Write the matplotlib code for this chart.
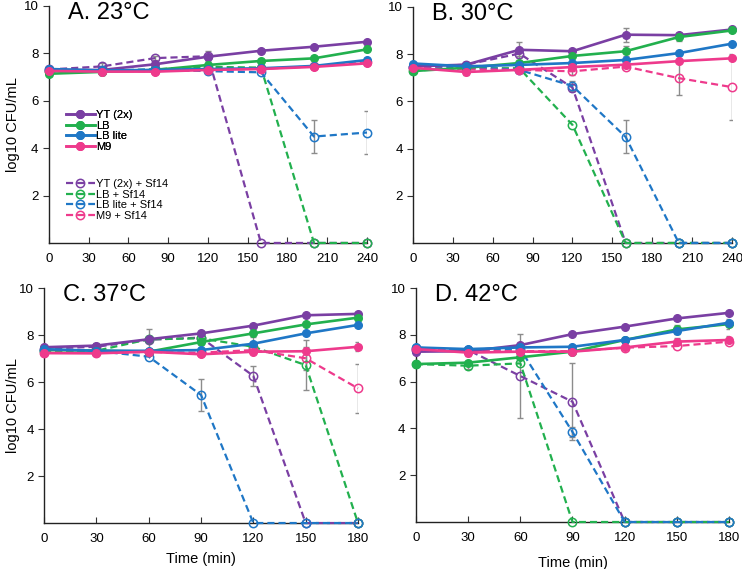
import matplotlib
matplotlib.use("Agg")
import matplotlib.pyplot as plt
from matplotlib.legend import Legend
from matplotlib.transforms import blended_transform_factory

plt.rcParams['font.family'] = ['Liberation Sans', 'DejaVu Sans']

# ---------------- data ----------------
SERIES = ["YT (2x)", "LB", "LB lite", "M9",
          "YT (2x) + Sf14", "LB + Sf14", "LB lite + Sf14", "M9 + Sf14"]
TITLES = ["A. 23°C", "B. 30°C", "C. 37°C", "D. 42°C"]

TIME_AB = [0, 40, 80, 120, 160, 200, 240]
TIME_CD = [0, 30, 60, 90, 120, 150, 180]
XTICKS_AB = [0, 30, 60, 90, 120, 150, 180, 210, 240]
XTICKS_CD = [0, 30, 60, 90, 120, 150, 180]
YTICKS = [2, 4, 6, 8, 10]

# Panel A (23 C)
A_YT = [7.30, 7.30, 7.54, 7.86, 8.11, 8.28, 8.49]
A_LB = [7.14, 7.22, 7.30, 7.51, 7.68, 7.79, 8.17]
A_LBL = [7.34, 7.28, 7.30, 7.34, 7.37, 7.47, 7.72]
A_M9 = [7.26, 7.23, 7.23, 7.30, 7.34, 7.43, 7.58]
A_YT_SF = [7.32, 7.45, 7.80, 7.88, 0, 0, 0]
A_LB_SF = [7.25, 7.25, 7.33, 7.43, 7.40, 0, 0]
A_LBL_SF = [7.30, 7.28, 7.32, 7.25, 7.20, 4.49, 4.66]
A_M9_SF = [7.25, 7.25, 7.25, 7.30, 7.35, 7.45, 7.62]
A_ERR_YT = [0, 0.1, 0, 0.1, 0, 0, 0]
A_ERR_LB = [0, 0.12, 0, 0.1, 0.08, 0, 0.12]
A_ERR_LBL = [0, 0, 0, 0, 0, 0.1, 0.1]
A_ERR_M9 = [0, 0, 0, 0, 0, 0.08, 0]
A_ERR_YT_SF = [0, 0.15, 0.08, 0.2, 0, 0, 0]
A_ERR_LB_SF = [0, 0, 0, 0.1, 0.1, 0, 0]
A_ERR_LBL_SF = [0, 0, 0, 0.1, 0, 0.7, 0.92]
A_ERR_M9_SF = [0, 0, 0, 0, 0, 0, 0]

# Panel B (30 C)
B_YT = [7.48, 7.55, 8.18, 8.12, 8.82, 8.80, 9.04]
B_LB = [7.28, 7.42, 7.62, 7.92, 8.12, 8.72, 9.00]
B_LBL = [7.60, 7.48, 7.54, 7.62, 7.75, 8.04, 8.44]
B_M9 = [7.42, 7.24, 7.33, 7.45, 7.55, 7.70, 7.82]
B_YT_SF = [7.45, 7.55, 8.02, 6.58, 0, 0, 0]
B_LB_SF = [7.30, 7.40, 7.40, 5.00, 0, 0, 0]
B_LBL_SF = [7.45, 7.45, 7.33, 6.65, 4.49, 0, 0]
B_M9_SF = [7.40, 7.35, 7.33, 7.27, 7.47, 6.98, 6.60]
B_ERR_YT = [0, 0.1, 0.35, 0.05, 0.3, 0.1, 0.1]
B_ERR_LB = [0, 0, 0, 0, 0.2, 0.15, 0.08]
B_ERR_LBL = [0, 0, 0, 0, 0, 0, 0]
B_ERR_M9 = [0, 0.12, 0, 0, 0, 0, 0]
B_ERR_YT_SF = [0, 0, 0.1, 0.15, 0, 0, 0]
B_ERR_LB_SF = [0, 0, 0, 0, 0, 0, 0]
B_ERR_LBL_SF = [0, 0, 0, 0.2, 0.7, 0, 0]
B_ERR_M9_SF = [0, 0, 0, 0.15, 0.08, 0.7, 1.4]

# Panel C (37 C)
C_YT = [7.48, 7.55, 7.82, 8.07, 8.40, 8.84, 8.90]
C_LB = [7.36, 7.34, 7.29, 7.70, 8.07, 8.45, 8.74]
C_LBL = [7.40, 7.33, 7.33, 7.36, 7.63, 8.07, 8.43]
C_M9 = [7.23, 7.22, 7.29, 7.18, 7.29, 7.31, 7.50]
C_YT_SF = [7.42, 7.50, 7.80, 7.89, 6.26, 0, 0]
C_LB_SF = [7.33, 7.33, 7.82, 7.86, 7.50, 6.72, 0]
C_LBL_SF = [7.35, 7.32, 7.08, 5.45, 0, 0, 0]
C_M9_SF = [7.25, 7.25, 7.27, 7.25, 7.36, 7.01, 5.73]
C_ERR_YT = [0, 0.1, 0, 0, 0, 0, 0]
C_ERR_LB = [0, 0, 0, 0, 0, 0.3, 0]
C_ERR_LBL = [0, 0, 0, 0, 0.3, 0, 0]
C_ERR_M9 = [0, 0, 0, 0, 0, 0, 0.2]
C_ERR_YT_SF = [0, 0, 0, 0, 0.42, 0, 0]
C_ERR_LB_SF = [0, 0, 0.45, 0.12, 0, 1.05, 0]
C_ERR_LBL_SF = [0, 0, 0, 0.67, 0, 0, 0]
C_ERR_M9_SF = [0, 0, 0, 0, 0, 0.5, 1.03]

# Panel D (42 C)
D_YT = [7.28, 7.30, 7.56, 8.03, 8.35, 8.70, 8.94]
D_LB = [6.75, 6.81, 7.04, 7.28, 7.78, 8.23, 8.46]
D_LBL = [7.46, 7.39, 7.46, 7.49, 7.78, 8.16, 8.52]
D_M9 = [7.39, 7.24, 7.28, 7.28, 7.46, 7.71, 7.78]
D_YT_SF = [7.35, 7.35, 6.24, 5.14, 0, 0, 0]
D_LB_SF = [6.75, 6.68, 6.78, 0, 0, 0, 0]
D_LBL_SF = [7.45, 7.35, 7.39, 3.85, 0, 0, 0]
D_M9_SF = [7.40, 7.30, 7.30, 7.30, 7.45, 7.52, 7.71]
D_ERR_YT = [0, 0.2, 0, 0, 0, 0, 0]
D_ERR_LB = [0, 0, 0, 0, 0, 0.2, 0.2]
D_ERR_LBL = [0, 0, 0, 0, 0, 0, 0]
D_ERR_M9 = [0, 0, 0, 0, 0, 0.15, 0.15]
D_ERR_YT_SF = [0, 0, 1.8, 1.64, 0, 0, 0]
D_ERR_LB_SF = [0, 0.12, 0, 0, 0, 0, 0]
D_ERR_LBL_SF = [0, 0, 0, 0.2, 0, 0, 0]
D_ERR_M9_SF = [0, 0, 0, 0, 0, 0, 0]

COLORS = ["#7A3FA3", "#22B04E", "#1F77C6", "#EE3A8C"]

PANELS = [
    (TIME_AB, XTICKS_AB, [A_YT, A_LB, A_LBL, A_M9, A_YT_SF, A_LB_SF, A_LBL_SF, A_M9_SF],
     [A_ERR_YT, A_ERR_LB, A_ERR_LBL, A_ERR_M9, A_ERR_YT_SF, A_ERR_LB_SF, A_ERR_LBL_SF, A_ERR_M9_SF]),
    (TIME_AB, XTICKS_AB, [B_YT, B_LB, B_LBL, B_M9, B_YT_SF, B_LB_SF, B_LBL_SF, B_M9_SF],
     [B_ERR_YT, B_ERR_LB, B_ERR_LBL, B_ERR_M9, B_ERR_YT_SF, B_ERR_LB_SF, B_ERR_LBL_SF, B_ERR_M9_SF]),
    (TIME_CD, XTICKS_CD, [C_YT, C_LB, C_LBL, C_M9, C_YT_SF, C_LB_SF, C_LBL_SF, C_M9_SF],
     [C_ERR_YT, C_ERR_LB, C_ERR_LBL, C_ERR_M9, C_ERR_YT_SF, C_ERR_LB_SF, C_ERR_LBL_SF, C_ERR_M9_SF]),
    (TIME_CD, XTICKS_CD, [D_YT, D_LB, D_LBL, D_M9, D_YT_SF, D_LB_SF, D_LBL_SF, D_M9_SF],
     [D_ERR_YT, D_ERR_LB, D_ERR_LBL, D_ERR_M9, D_ERR_YT_SF, D_ERR_LB_SF, D_ERR_LBL_SF, D_ERR_M9_SF]),
]

# axes rectangles (figure fractions)
RECTS = [
    [0.066, 0.573, 0.4286, 0.4165],
    [0.5566, 0.573, 0.4299, 0.4150],
    [0.0593, 0.0808, 0.4232, 0.4130],
    [0.5606, 0.0826, 0.4219, 0.4112],
]

fig = plt.figure(figsize=(7.42, 5.69), dpi=100)

for idx, (rect, (times, xticks, vals, errs)) in enumerate(zip(RECTS, PANELS)):
    ax = fig.add_axes(rect)
    handles = []
    # error bars first (grey)
    for v, e in zip(vals, errs):
        xs = [t for t, ee in zip(times, e) if ee > 0]
        ys = [vv for vv, ee in zip(v, e) if ee > 0]
        es = [ee for ee in e if ee > 0]
        if xs:
            ax.errorbar(xs, ys, yerr=es, fmt='none', ecolor='#8C8C8C',
                        elinewidth=1.0, capsize=2.5, capthick=1.0, zorder=2)
    for i, v in enumerate(vals):
        c = COLORS[i % 4]
        if i < 4:
            h, = ax.plot(times, v, '-', color=c, lw=1.9, marker='o', ms=5.5,
                         mfc=c, mec=c, clip_on=False, zorder=4, label=SERIES[i])
        else:
            h, = ax.plot(times, v, '--', color=c, lw=1.6, marker='o', ms=6,
                         mfc='none', mec=c, mew=1.1, dashes=(3.2, 1.8),
                         clip_on=False, zorder=3, label=SERIES[i])
        handles.append(h)

    ax.set_xlim(times[0], times[-1])
    ax.set_ylim(0, 10)
    ax.set_xticks(xticks)
    ax.set_yticks(YTICKS)
    ax.tick_params(axis='x', direction='in', length=4, labelsize=9.5, pad=7,
                   color='#333333')
    ax.tick_params(axis='y', direction='out', length=4, labelsize=9.5,
                   color='#333333')
    for s in ('top', 'right'):
        ax.spines[s].set_visible(False)
    for s in ('left', 'bottom'):
        ax.spines[s].set_color('#222222')
        ax.spines[s].set_linewidth(1.0)

    ax.text(0.06, 0.97, TITLES[idx], transform=ax.transAxes, fontsize=17,
            ha='left', va='center')

    if idx in (0, 2):
        ax.set_ylabel("log10 CFU/mL", fontsize=10.5)
        ax.yaxis.set_label_coords(
            13.0 / 742, 0.5,
            transform=blended_transform_factory(fig.transFigure, ax.transAxes))
        ax.yaxis.label.set_va('center')
    if idx == 2:
        ax.set_xlabel("Time (min)", fontsize=10.5, labelpad=5)
    if idx == 3:
        ax.set_xlabel("Time (min)", fontsize=10.5, labelpad=9)

    if idx == 0:
        leg1 = ax.legend(handles[:4], SERIES[:4], loc='upper left',
                         bbox_to_anchor=(0.053, 0.56), frameon=False,
                         fontsize=8, labelspacing=0.05, handlelength=2.6,
                         handletextpad=0.15, borderpad=0, borderaxespad=0)
        ax.add_artist(leg1)
        leg2 = Legend(ax, handles[4:], SERIES[4:], loc='upper left',
                      bbox_to_anchor=(0.053, 0.27), frameon=False,
                      fontsize=8, labelspacing=0.05, handlelength=2.6,
                      handletextpad=0.15, borderpad=0, borderaxespad=0)
        ax.add_artist(leg2)

fig.savefig("out.png", dpi=100)
